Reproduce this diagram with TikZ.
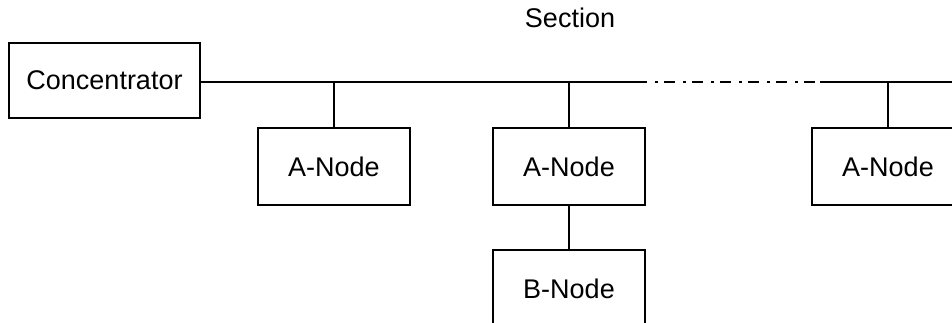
\documentclass[tikz,border=0pt]{standalone}
\usepackage{fontspec}
\setmainfont{Liberation Sans}
\usetikzlibrary{positioning}

\tikzset{
  unit/.style={draw, line width=2pt, minimum width=152pt, minimum height=77pt,
    inner sep=0pt, font=\fontsize{27}{31}\selectfont},
  wire/.style={line width=2pt}
}

\begin{document}
\begin{tikzpicture}[x=1pt, y=-1pt]
            \useasboundingbox (0,0) rectangle (952,323);
            \clip (0,0) rectangle (952,323);
            \node[font=\fontsize{27}{31}\selectfont] (sec) at (570,18) {Section};
            \node[unit, minimum width=191pt, minimum height=75pt] (conc) at (104.5,80.5) {Concentrator};
            \node[unit] (a1) at (334,166.5) {A-Node};
            \node[unit] (a2) at (569,166.5) {A-Node};
            \node[unit] (a3) at (888,166.5) {A-Node};
            \node[unit] (b1) at (569,288.5) {B-Node};
            % bus with the dash-dot gap
            \coordinate (gapL) at (647,82);
            \coordinate (gapR) at (820,82);
            \coordinate (busR) at (960,82);
            \draw[wire] (conc.east |- gapL) -- (gapL);
            \draw[wire, dash pattern=on 3pt off 6pt on 11pt off 8pt, dash phase=20pt] (gapL) -- (gapR);
            \draw[wire] (gapR) -- (busR);
            \foreach \n in {a1, a2, a3} {
                \draw[wire] (\n.north |- gapL) -- (\n.north);
            }
            \draw[wire] (a2) -- (b1);
        \end{tikzpicture}
\end{document}
